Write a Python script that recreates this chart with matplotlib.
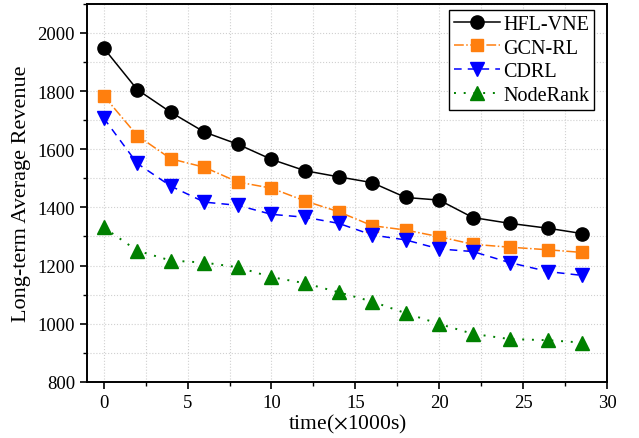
import matplotlib
matplotlib.use('Agg')
import matplotlib.pyplot as plt
from matplotlib.ticker import MultipleLocator

plt.rcParams['font.family'] = ['Liberation Serif', 'DejaVu Serif']
plt.rcParams['mathtext.fontset'] = 'stix'

# sample times (x1000 s)
t = [0, 2, 4, 6, 8, 10, 12, 14, 16, 18, 20, 22, 24.2, 26.5, 28.5]

hfl_vne = [1948, 1805, 1727, 1659, 1617, 1565, 1526, 1505, 1485, 1434, 1425, 1365, 1345, 1328, 1310]
gcn_rl = [1784, 1647, 1567, 1538, 1487, 1466, 1422, 1385, 1337, 1322, 1299, 1273, 1263, 1254, 1245]
cdrl = [1707, 1551, 1473, 1418, 1407, 1376, 1366, 1345, 1305, 1288, 1257, 1248, 1210, 1179, 1166]
noderank = [1331, 1251, 1217, 1210, 1194, 1160, 1139, 1108, 1076, 1036, 999, 965, 947, 943, 935]

fig = plt.figure(figsize=(6.39, 4.39), dpi=100)
ax = fig.add_axes([0.136, 0.128, 0.814, 0.861])

ax.plot(t, hfl_vne, color='black', ls='-', lw=1.1, marker='o', ms=9.5, label='HFL-VNE')
ax.plot(t, gcn_rl, color='#ff7f0e', ls='-.', lw=1.1, marker='s', ms=9, label='GCN-RL')
ax.plot(t, cdrl, color='blue', ls=(0, (5, 4)), lw=1.1, marker='v', ms=10, label='CDRL')
ax.plot(t, noderank, color='green', ls=(0, (1, 4)), lw=1.4, marker='^', ms=10, label='NodeRank')

ax.set_xlim(-1, 30)
ax.set_ylim(800, 2100)
ax.xaxis.set_major_locator(MultipleLocator(5))
ax.xaxis.set_minor_locator(MultipleLocator(2.5))
ax.yaxis.set_major_locator(MultipleLocator(200))
ax.yaxis.set_minor_locator(MultipleLocator(100))
ax.grid(True, which='both', color='#d0d0d0', ls=':', lw=0.8)
ax.set_axisbelow(True)

ax.tick_params(which='major', direction='out', length=5, width=1.2, labelsize=13.5)
ax.tick_params(which='minor', direction='out', length=3, width=1.0)
for s in ax.spines.values():
    s.set_linewidth(1.4)

ax.set_xlabel(r'time($\times$1000s)', fontsize=15.5, labelpad=1)
ax.set_ylabel('Long-term Average Revenue', fontsize=16, labelpad=5)

leg = ax.legend(loc='upper right', bbox_to_anchor=(0.975, 0.984), fontsize=14.5,
                fancybox=False, framealpha=1, edgecolor='black', handlelength=2.3,
                borderpad=0.25, labelspacing=0.22, handletextpad=0.15,
                borderaxespad=0)
leg.get_frame().set_linewidth(1.0)

fig.savefig('out.png', dpi=100)
